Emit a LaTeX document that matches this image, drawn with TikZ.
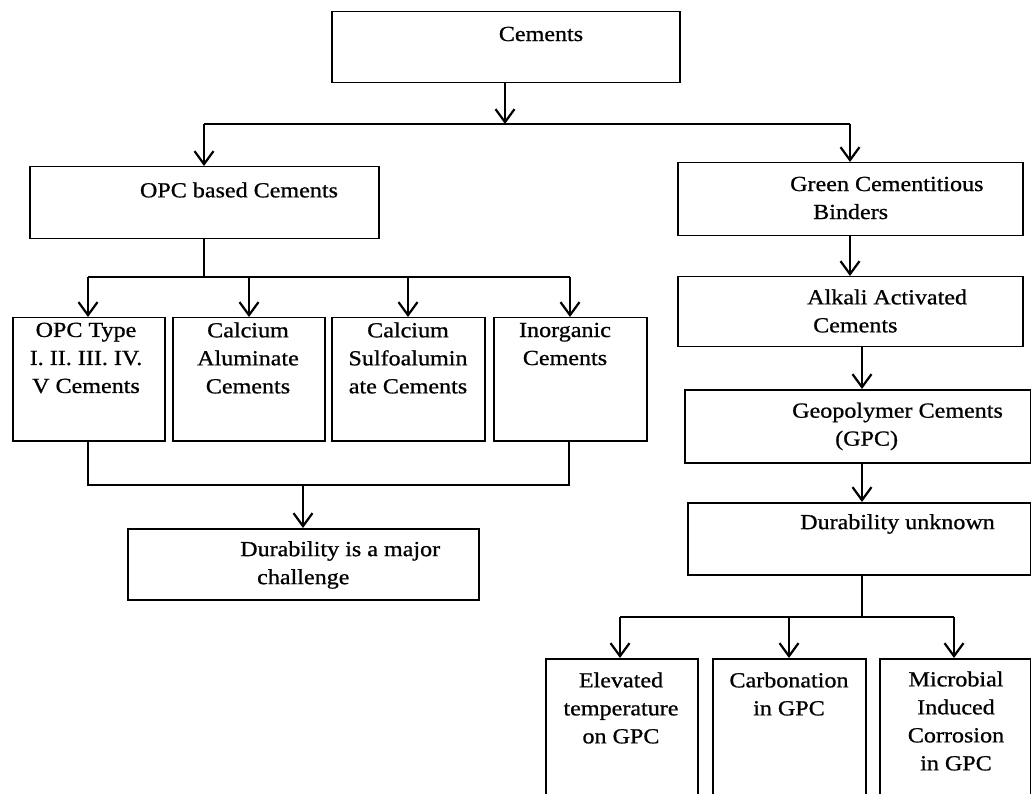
\documentclass[tikz,border=0pt]{standalone}
\usepackage{fontspec}
\setmainfont[FakeStretch=1.12,FakeBold=0.8]{Liberation Serif}
\usetikzlibrary{arrows.meta}
\tikzset{
  box/.style={draw, line width=1.5pt, rectangle, inner sep=0pt},
  txt/.style={inner sep=0pt, font=\fontsize{21.5}{28}\selectfont},
  conn/.style={line width=1.7pt},
  arr/.style={line width=1.7pt, -{Straight Barb[length=13pt,width=19pt,line width=2.2pt]}}
}
\newcommand{\bx}[5]{\node[box, minimum width=#4-#2, minimum height=#5-#3, anchor=north west] (#1) at (#2,#3) {};}
\begin{document}
\begin{tikzpicture}[x=1pt,y=-1pt]
\clip (0,0) rectangle (1031,794);
\fill[white] (0,0) rectangle (1031,794);
% boxes
\bx{cem}{331}{11}{679}{82}
\bx{opc}{29}{166}{378}{238}
\bx{green}{677}{162}{1022}{235}
\bx{alk}{677}{276}{1022}{346}
\bx{geo}{684}{389}{1030}{462}
\bx{dun}{687}{502}{1030}{574}
\bx{t1}{12}{317}{164}{440}
\bx{t2}{172}{317}{324}{440}
\bx{t3}{331}{317}{484}{440}
\bx{t4}{493}{317}{646}{440}
\bx{maj}{127}{528}{478}{599}
\bx{elev}{545}{658}{697}{810}
\bx{carb}{712}{658}{865}{810}
\bx{micro}{879}{658}{1030}{810}
% texts
\node[txt] (cemT) at (541,34) {Cements};
\node[txt] (opcT) at (239,190) {OPC based Cements};
\node[txt, anchor=west, align=left] (greenT) at (790,198) {Green Cementitious\\\hspace*{23pt}Binders};
\node[txt, anchor=west, align=left] (alkT) at (807,311) {Alkali Activated\\\hspace*{6pt}Cements};
\node[txt, anchor=west, align=left] (geoT) at (792,426.5) {Geopolymer Cements\\\hspace*{43pt}(GPC)};
\node[txt, anchor=west] (dunT) at (800,524) {Durability unknown};
\node[txt, anchor=west, align=left] (majT) at (240,565) {Durability is a major\\\hspace*{17pt}challenge};
\node[txt, align=center] (t1T) at (86,358) {OPC Type\\I. II. III. IV.\\V Cements};
\node[txt, align=center] (t2T) at (248,358) {Calcium\\Aluminate\\Cements};
\node[txt, align=center] (t3T) at (408,358) {Calcium\\Sulfoalumin\\ate Cements};
\node[txt, align=center] (t4T) at (565,344) {Inorganic\\Cements};
\node[txt, align=center] (elevT) at (621,708) {Elevated\\temperature\\on GPC};
\node[txt, align=center] (carbT) at (789,694) {Carbonation\\in GPC};
\node[txt, align=center] (microT) at (956,721) {Microbial\\Induced\\Corrosion\\in GPC};
% junction coordinates
\coordinate (j1) at (505,124);
\coordinate (jL) at (204,124);
\coordinate (jR) at (850,124);
\coordinate (j2) at (204,277);
\coordinate (j2a) at (88,277);
\coordinate (j2b) at (249,277);
\coordinate (j2c) at (408,277);
\coordinate (j2d) at (570,277);
\coordinate (j3a) at (88,485);
\coordinate (j3d) at (569,485);
\coordinate (j3) at (303,485);
\coordinate (j4) at (862,617);
\coordinate (j4a) at (620,617);
\coordinate (j4b) at (789,617);
\coordinate (j4c) at (954,617);
% connectors
\draw[arr] (cem.south -| j1) -- (j1);
\draw[conn] (jL) -- (jR);
\draw[arr] (jL) -- (jL |- opc.north);
\draw[arr] (jR) -- (jR |- green.north);
\draw[arr] (green.south -| jR) -- (jR |- alk.north);
\draw[arr] (alk.south -| j4) -- (j4 |- geo.north);
\draw[arr] (geo.south -| j4) -- (j4 |- dun.north);
\draw[conn] (opc.south -| j2) -- (j2);
\draw[conn] (j2a) -- (j2d);
\draw[arr] (j2a) -- (j2a |- t1.north);
\draw[arr] (j2b) -- (j2b |- t2.north);
\draw[arr] (j2c) -- (j2c |- t3.north);
\draw[arr] (j2d) -- (j2d |- t4.north);
\draw[conn] (t1.south -| j3a) -- (j3a) -- (j3d) -- (j3d |- t4.south);
\draw[arr] (j3) -- (j3 |- maj.north);
\draw[conn] (dun.south -| j4) -- (j4);
\draw[conn] (j4a) -- (j4c);
\draw[arr] (j4a) -- (j4a |- elev.north);
\draw[arr] (j4b) -- (j4b |- carb.north);
\draw[arr] (j4c) -- (j4c |- micro.north);
\end{tikzpicture}
\end{document}
